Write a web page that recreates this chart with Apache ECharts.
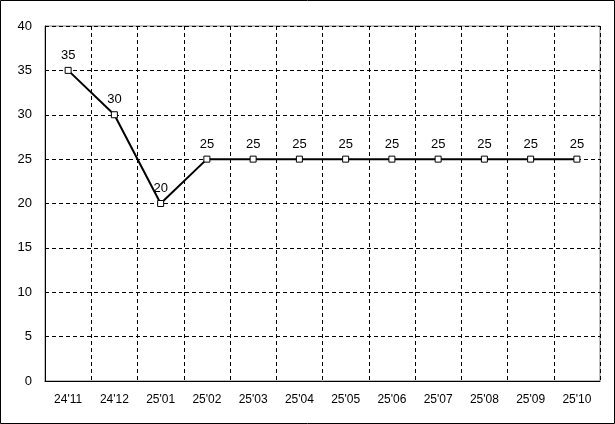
<!DOCTYPE html>
<html><head><meta charset="utf-8">
<script src="https://cdn.jsdelivr.net/npm/echarts@6/dist/echarts.min.js"></script>
<style>html,body{margin:0;padding:0;background:#fff}#c{width:615px;height:424px}</style>
</head><body><div id="c"></div>
<script>
const categories = ["24'11","24'12","25'01","25'02","25'03","25'04","25'05","25'06","25'07","25'08","25'09","25'10"];
const values = [35,30,20,25,25,25,25,25,25,25,25,25];
const yTicks = {min:0, max:40, interval:5};
const chart = echarts.init(document.getElementById('c'), null, {renderer:'canvas'});
const font = 'Liberation Sans, Arial, sans-serif';
chart.setOption({
  animation:false,
  backgroundColor:'#fff',
  graphic:[{type:'rect',shape:{x:0.5,y:0.5,width:614,height:423},style:{fill:'none',stroke:'#000',lineWidth:1},silent:true}],
  grid:{left:45,right:15,top:26,bottom:43,show:true,borderColor:'#808080',borderWidth:1,backgroundColor:'transparent'},
  xAxis:{type:'category',data:categories,boundaryGap:true,
    axisLine:{lineStyle:{color:'#000',width:1}},axisTick:{show:false},
    axisLabel:{color:'#000',fontSize:12,fontFamily:font,margin:13,interval:0},
    splitLine:{show:true,interval:0,lineStyle:{color:'#000',type:[4,3],width:1}}},
  yAxis:{type:'value',min:yTicks.min,max:yTicks.max,interval:yTicks.interval,
    axisLine:{show:true,lineStyle:{color:'#000',width:1}},axisTick:{show:false},
    axisLabel:{color:'#000',fontSize:13,fontFamily:font,margin:13},
    splitLine:{show:true,lineStyle:{color:'#000',type:[4,3],width:1}}},
  series:[{type:'line',data:values,symbol:'rect',symbolSize:6,
    lineStyle:{color:'#000',width:2},
    itemStyle:{color:'#fff',borderColor:'#000',borderWidth:1},
    label:{show:true,position:'top',distance:5,color:'#000',fontSize:13,fontFamily:font}}]
});
</script></body></html>
